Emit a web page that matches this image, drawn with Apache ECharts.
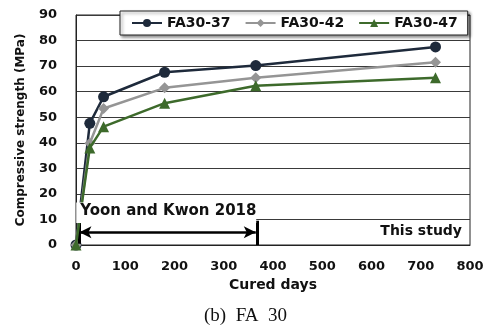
<!DOCTYPE html>
<html><head><meta charset="utf-8">
<script src="https://cdn.jsdelivr.net/npm/echarts@6/dist/echarts.min.js"></script>
<style>html,body{margin:0;padding:0;background:#fff}#c{width:495px;height:335px}</style>
</head><body><div id="c"></div>
<script>
var days = [0, 28, 56, 180, 365, 730];
var fa37 = [0, 47.6, 58, 67.6, 70.2, 77.5];
var fa42 = [0, 39.8, 53.4, 61.5, 65.4, 71.5];
var fa47 = [0, 38, 46.3, 55.5, 62.3, 65.4];
var seriesNames = ['FA30-37', 'FA30-42', 'FA30-47'];
var yTicks = [0, 10, 20, 30, 40, 50, 60, 70, 80, 90];
var xTicks = [0, 100, 200, 300, 400, 500, 600, 700, 800];
var prevStudyStart = 7, prevStudyEnd = 365, arrowLevel = 5, tickTop = 9.5;

function pairs(xs, ys){ return xs.map(function(x,i){ return [x, ys[i]]; }); }

var F = 'DejaVu Sans';
var chart = echarts.init(document.getElementById('c'), null, {renderer:'canvas'});
var opt = {
  animation: false,
  backgroundColor: '#fff',
  grid: {left: 76, right: 25, top: 15, bottom: 90, show: true, borderColor: '#222', borderWidth: 1},
  legend: {
    data: seriesNames, left: 120, top: 11, itemWidth: 30, itemHeight: 10, itemGap: 14,
    padding: [5, 10, 5, 11], backgroundColor: '#fff', borderColor: '#222', borderWidth: 1,
    shadowColor: 'rgba(0,0,0,0.45)', shadowBlur: 3, shadowOffsetX: 2, shadowOffsetY: 2,
    textStyle: {fontFamily: F, fontWeight: 'bold', fontSize: 14, color: '#111'}
  },
  xAxis: {
    type: 'value', min: xTicks[0], max: xTicks[xTicks.length-1], interval: 100,
    name: 'Cured days', nameLocation: 'middle', nameGap: 33,
    nameTextStyle: {fontFamily: F, fontWeight: 'bold', fontSize: 14, color: '#111'},
    axisLine: {show: true, lineStyle: {color: '#222', width: 1}},
    axisTick: {show: false},
    axisLabel: {margin: 15, fontFamily: F, fontWeight: 'bold', fontSize: 13, color: '#111'},
    splitLine: {show: false}
  },
  yAxis: {
    type: 'value', min: yTicks[0], max: yTicks[yTicks.length-1], interval: 10,
    name: 'Compressive strength (MPa)', nameLocation: 'middle', nameGap: 49,
    nameTextStyle: {fontFamily: F, fontWeight: 'bold', fontSize: 12, color: '#111'},
    axisLine: {show: true, lineStyle: {color: '#222', width: 1}},
    axisTick: {show: false},
    axisLabel: {margin: 19, fontFamily: F, fontWeight: 'bold', fontSize: 13, color: '#111'},
    splitLine: {show: true, lineStyle: {color: '#3a3a3a', width: 1}}
  },
  series: [
    {name: seriesNames[0], type: 'line', data: pairs(days, fa37), symbol: 'circle', symbolSize: 11,
     itemStyle: {color: '#1e2a3b'}, lineStyle: {color: '#1e2a3b', width: 2.5}, z: 3},
    {name: seriesNames[1], type: 'line', data: pairs(days, fa42), symbol: 'diamond', symbolSize: 11,
     itemStyle: {color: '#959595'}, lineStyle: {color: '#959595', width: 2.5}, z: 4},
    {name: seriesNames[2], type: 'line', data: pairs(days, fa47), symbol: 'triangle', symbolSize: 11,
     itemStyle: {color: '#3d6a2b'}, lineStyle: {color: '#3d6a2b', width: 2.5}, z: 5},
    {name: 'annot', type: 'line', data: [], z: 20, silent: true,
     markLine: {silent: true, symbol: ['none','none'], label: {show: false}, animation: false,
       data: [
         [{coord: [prevStudyStart, arrowLevel], symbol: 'arrow', symbolSize: [9, 12], lineStyle: {color: '#000', width: 2.5, type: 'solid'}},
          {coord: [prevStudyEnd, arrowLevel], symbol: 'arrow', symbolSize: [9, 12]}],
         [{coord: [prevStudyStart, 0.5], lineStyle: {color: '#000', width: 3, type: 'solid'}}, {coord: [prevStudyStart, tickTop]}],
         [{coord: [prevStudyEnd + 4, 0], lineStyle: {color: '#000', width: 3, type: 'solid'}}, {coord: [prevStudyEnd + 4, tickTop]}]
       ]}}
  ]
};
chart.setOption(opt);

var p0 = chart.convertToPixel({gridIndex: 0}, [0.5, 16.6]);
var p1 = chart.convertToPixel({gridIndex: 0}, [prevStudyEnd + 4, 8.6]);
var pr = chart.convertToPixel({gridIndex: 0}, [xTicks[xTicks.length-1], 5.3]);
chart.setOption({
  graphic: [
    {type: 'rect', z: 15, shape: {x: p0[0], y: p0[1], width: p1[0]-p0[0]-1.5, height: p1[1]-p0[1]}, style: {fill: '#fff'}},
    {type: 'text', z: 30, left: p0[0] + 4, top: p0[1] + 1, style: {text: 'Yoon and Kwon 2018', font: 'bold 15px "DejaVu Sans"', fill: '#111'}},
    {type: 'text', z: 30, x: pr[0] - 8, y: pr[1], style: {text: 'This study', font: 'bold 14px "DejaVu Sans"', fill: '#111', textAlign: 'right', textVerticalAlign: 'middle'}},
    {type: 'text', z: 30, left: 204, top: 307, style: {text: '(b)\u2002FA\u200230', font: '19px "Liberation Serif"', fill: '#111'}}
  ]
});
</script></body></html>
